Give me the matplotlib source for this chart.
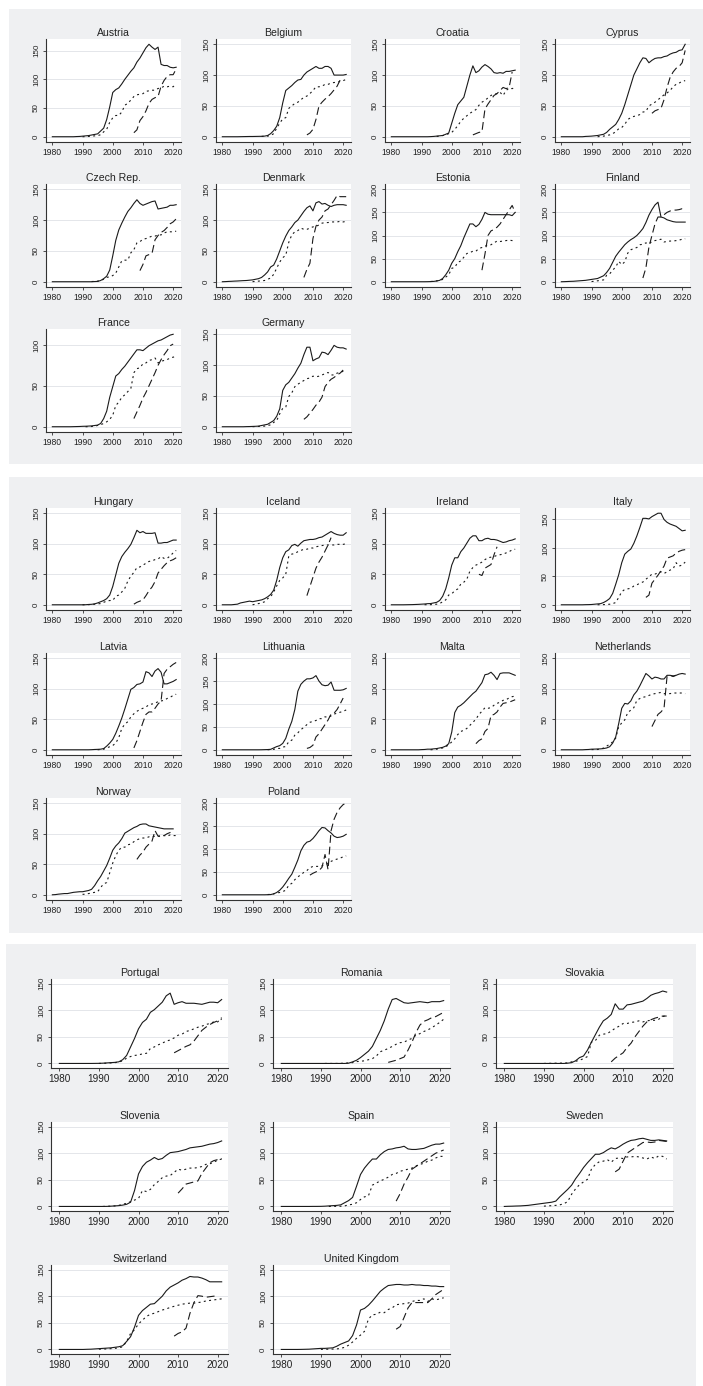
import matplotlib
matplotlib.use("Agg")
import matplotlib.pyplot as plt
from matplotlib.patches import Rectangle

plt.rcParams['font.family'] = ['Liberation Sans', 'DejaVu Sans']

W, H = 703, 1386

# solid line: values 1980 onwards
mobile = {
    "Austria": [0, 0, 0, 0, 0, 0, 0, 0, 0.3, 0.5,
                1, 1.5, 2, 3, 4, 5, 10, 15, 30, 52,
                77, 82, 85, 92, 100, 107, 114, 120, 130, 137,
                146, 155, 161, 156, 152, 156, 126, 124, 124, 121,
                120, 121],
    "Belgium": [0, 0, 0, 0, 0, 0, 0.1, 0.2, 0.3, 0.4,
                0.4, 0.5, 0.6, 0.7, 1, 2, 5, 10, 17, 31,
                55, 75, 79, 83, 88, 92, 93, 100, 105, 108,
                111, 114, 111, 111, 114, 114, 111, 100, 100, 100,
                100, 101],
    "Croatia": [0, 0, 0, 0, 0, 0, 0, 0, 0, 0,
                0, 0, 0, 0.2, 0.5, 1, 1.5, 2, 4, 6,
                22, 38, 52, 58, 64, 82, 100, 115, 104, 107,
                113, 117, 114, 110, 104, 103, 104, 103, 106, 106,
                107, 108],
    "Cyprus": [0, 0, 0, 0, 0, 0, 0, 0, 0.5, 0.7,
               1, 1.5, 2, 3, 4, 7, 12, 16, 20, 28,
               38, 52, 68, 84, 100, 110, 120, 128, 127, 120,
               124, 127, 128, 128, 130, 131, 134, 136, 137, 140,
               141, 150],
    "Czech Rep.": [0, 0, 0, 0, 0, 0, 0, 0, 0, 0,
                   0, 0, 0, 0, 0.3, 0.5, 2, 5, 9, 19,
                   42, 67, 84, 95, 105, 114, 120, 127, 133, 127,
                   124, 126, 128, 130, 131, 118, 119, 120, 121, 124,
                   124, 125],
    "Denmark": [0, 0.2, 0.5, 0.7, 1, 1.2, 1.5, 1.8, 2, 2.5,
                3, 4, 5, 7, 11, 16, 24, 27, 37, 50,
                63, 74, 83, 89, 96, 100, 107, 114, 120, 123,
                115, 128, 130, 126, 127, 124, 122, 124, 125, 125,
                125, 124],
    "Estonia": [0, 0, 0, 0, 0, 0, 0, 0, 0, 0,
                0, 0, 0.1, 0.3, 0.7, 1.5, 3, 7, 15, 25,
                40, 50, 65, 78, 95, 110, 125, 125, 119, 124,
                135, 150, 146, 145, 145, 145, 145, 145, 145, 145,
                143, 150],
    "Finland": [0, 0.2, 0.5, 0.8, 1, 1.5, 2, 2.5, 3, 4,
                5, 6, 7, 10, 13, 20, 29, 42, 55, 64,
                72, 80, 86, 91, 95, 100, 107, 115, 128, 144,
                156, 166, 172, 140, 138, 134, 132, 130, 129, 129,
                129, 129],
    "France": [0, 0, 0, 0, 0, 0, 0, 0.1, 0.2, 0.3,
               0.5, 0.6, 0.8, 1, 1.5, 2, 4, 10, 19, 36,
               49, 62, 65, 70, 74, 79, 84, 89, 94, 94,
               93, 96, 99, 101, 103, 105, 106, 108, 110, 112,
               113],
    "Germany": [0, 0, 0, 0, 0, 0, 0, 0, 0.2, 0.3,
                0.5, 0.7, 1, 2, 3, 4, 7, 10, 17, 29,
                59, 68, 72, 79, 86, 95, 103, 117, 129, 129,
                107, 110, 112, 121, 120, 117, 124, 132, 129, 128,
                128, 126],
    "Hungary": [0, 0, 0, 0, 0, 0, 0, 0, 0, 0,
                0, 0.1, 0.5, 0.8, 1.5, 3, 5, 7, 10, 16,
                30, 49, 68, 79, 86, 92, 99, 110, 122, 118,
                120, 117, 117, 117, 118, 101, 101, 102, 102, 104,
                106, 106],
    "Iceland": [0, 0, 0, 0, 0.5, 1, 3, 4, 5, 6,
                5, 6, 7, 8, 10, 13, 17, 24, 40, 61,
                77, 87, 90, 97, 99, 96, 101, 105, 106, 107,
                107, 108, 110, 111, 114, 117, 120, 117, 115, 114,
                114, 118],
    "Ireland": [0, 0, 0, 0, 0, 0.1, 0.2, 0.3, 0.5, 0.7,
                1, 1.3, 1.8, 2, 3, 4, 7, 14, 26, 44,
                65, 77, 77, 87, 93, 101, 109, 113, 113, 105,
                105, 108, 109, 107, 107, 106, 104, 102, 103, 105,
                106, 108],
    "Italy": [0, 0, 0, 0, 0, 0, 0, 0, 0.2, 0.3,
              0.5, 1, 1.5, 2, 4, 7, 11, 20, 36, 53,
              74, 89, 94, 98, 108, 121, 136, 152, 152, 151,
              155, 158, 161, 161, 150, 145, 142, 140, 138, 134,
              130, 131],
    "Latvia": [0, 0, 0, 0, 0, 0, 0, 0, 0, 0,
               0, 0, 0, 0.2, 0.5, 0.7, 1, 2, 6, 11,
               17, 27, 39, 52, 67, 83, 99, 102, 107, 108,
               111, 128, 126, 120, 129, 133, 127, 108, 108, 110,
               112, 115],
    "Lithuania": [0, 0, 0, 0, 0, 0, 0, 0, 0, 0,
                  0, 0, 0, 0.1, 0.3, 0.5, 1, 4, 7, 9,
                  14, 25, 45, 62, 88, 128, 143, 150, 155, 155,
                  157, 162, 150, 142, 140, 141, 148, 130, 130, 130,
                  131, 134],
    "Malta": [0, 0, 0, 0, 0, 0, 0, 0, 0, 0,
              0.3, 0.5, 1, 1, 1.5, 2, 3, 4, 6, 10,
              29, 61, 70, 73, 77, 82, 87, 92, 96, 103,
              110, 123, 124, 127, 122, 115, 125, 126, 126, 126,
              124, 122],
    "Netherlands": [0, 0, 0, 0, 0, 0, 0, 0, 0.3, 0.5,
                    1, 1.1, 1.3, 1.5, 2, 3, 5, 11, 21, 43,
                    68, 76, 75, 80, 90, 96, 105, 115, 125, 121,
                    116, 119, 118, 116, 116, 122, 122, 121, 122, 124,
                    125, 124],
    "Norway": [0, 0.3, 1, 1.5, 2, 2, 3, 4, 4.5, 5,
               5, 6, 7, 9, 15, 23, 30, 39, 48, 60,
               73, 80, 85, 92, 101, 104, 107, 110, 112, 115,
               116, 116, 113, 112, 111, 110, 109, 108, 108, 108,
               108],
    "Poland": [0, 0, 0, 0, 0, 0, 0, 0, 0, 0,
               0, 0, 0, 0, 0, 0.2, 0.5, 2, 5, 10,
               17, 26, 36, 45, 60, 76, 96, 108, 115, 117,
               123, 131, 140, 147, 146, 140, 135, 128, 125, 126,
               128, 132],
    "Portugal": [0, 0, 0, 0, 0, 0, 0, 0, 0, 0.1,
                 0.2, 0.5, 1, 1.5, 2, 3, 7, 15, 31, 47,
                 65, 77, 83, 96, 101, 108, 115, 127, 132, 111,
                 114, 116, 113, 113, 113, 112, 111, 113, 115, 115,
                 114, 120],
    "Romania": [0, 0, 0, 0, 0, 0, 0, 0, 0, 0,
                0, 0, 0, 0, 0, 0, 0, 0.5, 3, 6,
                11, 17, 23, 32, 47, 62, 80, 102, 120, 122,
                118, 114, 113, 114, 115, 116, 115, 114, 116, 116,
                116, 118],
    "Slovakia": [0, 0, 0, 0, 0, 0, 0, 0, 0, 0,
                 0, 0, 0, 0, 0, 0, 0.5, 1.5, 5, 11,
                 14, 25, 40, 54, 68, 80, 85, 92, 112, 102,
                 102, 110, 111, 113, 115, 117, 122, 128, 131, 133,
                 136, 134],
    "Slovenia": [0, 0, 0, 0, 0, 0, 0, 0, 0, 0,
                 0, 0, 0.1, 0.5, 1, 1.5, 2.5, 4, 8, 30,
                 61, 75, 83, 87, 92, 88, 90, 96, 101, 102,
                 103, 105, 107, 110, 111, 112, 113, 115, 117, 118,
                 120, 123],
    "Spain": [0, 0, 0, 0, 0, 0, 0, 0, 0.1, 0.1,
              0.2, 0.5, 1, 1.5, 2, 3, 7, 11, 17, 38,
              60, 72, 81, 89, 89, 97, 103, 107, 108, 110,
              111, 113, 108, 107, 107, 108, 109, 112, 115, 117,
              117, 119],
    "Sweden": [0, 0.3, 0.5, 0.8, 1, 1.5, 2, 3, 4, 5,
               6, 7, 8, 10, 18, 25, 32, 40, 52, 62,
               73, 82, 90, 98, 98, 101, 106, 110, 108, 112,
               117, 121, 124, 125, 127, 128, 126, 124, 124, 125,
               124, 123],
    "Switzerland": [0, 0, 0, 0, 0, 0, 0, 0.3, 0.5, 1,
                    1.5, 2, 2.5, 3, 4, 5, 7, 15, 24, 42,
                    64, 73, 79, 85, 86, 93, 100, 110, 117, 121,
                    125, 130, 133, 137, 136, 136, 134, 131, 127, 127,
                    127, 127],
    "United Kingdom": [0, 0, 0, 0, 0, 0.1, 0.3, 0.5, 1, 1.5,
                       2, 2, 2.5, 3, 6, 10, 13, 16, 26, 46,
                       74, 77, 83, 91, 100, 109, 115, 120, 121, 122,
                       122, 121, 121, 122, 121, 121, 120, 120, 119, 119,
                       118, 118],
}

# dotted line: (first year, values)
internet = {
    "Austria": (1990, [0, 0.2, 0.5, 1, 1.5, 1.9, 3.5, 8.5, 13, 25,
                       33, 37, 37, 43, 55, 58, 64, 70, 73, 74,
                       75, 79, 80, 81, 81, 84, 85, 88, 87, 88, 87, 92]),
    "Belgium": (1993, [0.5, 0.8, 1, 2, 5, 14, 22,
                       29, 31, 46, 50, 54, 56, 60, 64, 66, 70,
                       75, 81, 81, 82, 85, 85, 87, 88, 88, 90, 91, 93]),
    "Croatia": (1995, [0.5, 1, 2, 3, 5,
                       7, 12, 18, 25, 30, 34, 38, 41, 44, 51,
                       56, 59, 63, 67, 69, 70, 72, 67, 75, 79, 78, 80]),
    "Cyprus": (1992, [0, 0.5, 1, 2, 3, 5, 8, 13,
                      15, 20, 28, 31, 33, 34, 36, 40, 41, 50,
                      53, 56, 60, 64, 68, 71, 75, 81, 85, 87, 90, 91]),
    "Czech Rep.": (1993, [0.3, 0.6, 1, 2, 4, 7, 8,
                          10, 14, 24, 34, 35, 35, 47, 52, 63, 65,
                          69, 70, 72, 74, 74, 76, 76, 79, 81, 81, 81, 82]),
    "Denmark": (1990, [0.1, 0.5, 1, 1.5, 2, 4, 6, 12, 22, 32,
                       39, 43, 64, 76, 81, 83, 87, 85, 85, 87,
                       89, 90, 92, 95, 96, 96, 97, 97, 97, 98, 97, 98]),
    "Estonia": (1993, [0.5, 1, 2, 3, 5, 10, 15,
                       29, 31, 42, 45, 53, 61, 63, 66, 66, 72,
                       74, 77, 79, 80, 84, 88, 87, 88, 89, 90, 89, 91]),
    "Finland": (1990, [0.4, 1, 2, 3, 4, 14, 17, 25, 32, 44,
                       37, 43, 62, 69, 72, 74, 80, 81, 84, 82,
                       87, 89, 90, 92, 86, 87, 88, 88, 89, 90, 92, 93]),
    "France": (1991, [0, 0.1, 0.3, 0.5, 1.6, 2.5, 4, 6, 9,
                      14, 26, 30, 36, 39, 43, 47, 66, 71, 72,
                      77, 78, 81, 82, 84, 78, 80, 81, 82, 84, 85, 86]),
    "Germany": (1990, [0.1, 0.3, 0.5, 0.7, 1, 2, 3, 7, 10, 21,
                       30, 32, 49, 55, 65, 69, 72, 75, 78, 79,
                       82, 81, 82, 84, 86, 88, 84, 84, 87, 88, 90, 92]),
    "Hungary": (1990, [0, 0.1, 0.2, 0.5, 0.9, 1.5, 2, 4, 6, 7,
                       7, 14, 16, 21, 27, 39, 47, 53, 61, 62,
                       65, 68, 71, 72, 74, 75, 79, 76, 76, 80, 85, 89]),
    "Iceland": (1990, [0, 1, 2, 3, 5, 10, 13, 21, 31, 40,
                       44, 50, 80, 83, 84, 87, 89, 91, 91, 93,
                       93, 95, 96, 97, 98, 98, 98, 98, 99, 99, 99, 100]),
    "Ireland": (1991, [0.1, 0.15, 0.2, 0.5, 1, 2, 5, 8, 16,
                       18, 23, 26, 34, 37, 42, 55, 61, 65, 67,
                       70, 74, 77, 78, 79, 81, 82, 83, 85, 87, 90, 91]),
    "Italy": (1992, [0, 0.2, 0.3, 0.5, 1, 2, 4, 13,
                     23, 27, 28, 29, 33, 35, 38, 40, 45, 49,
                     54, 54, 56, 58, 55, 58, 61, 63, 74, 68, 70, 75]),
    "Latvia": (1995, [0, 0.5, 1, 3, 5,
                      7, 11, 20, 35, 42, 46, 54, 59, 63, 66,
                      68, 70, 74, 75, 76, 79, 80, 81, 84, 86, 89, 91]),
    "Lithuania": (1995, [0, 0.5, 1, 3, 3,
                         6, 7, 18, 21, 32, 37, 44, 49, 55, 60,
                         62, 64, 68, 68, 72, 71, 74, 78, 80, 82, 84, 87]),
    "Malta": (1993, [0, 0.5, 1, 2, 3, 5, 8,
                     13, 18, 25, 30, 32, 35, 40, 45, 50, 58,
                     63, 69, 68, 69, 73, 76, 78, 81, 82, 85, 87, 88]),
    "Netherlands": (1990, [0.3, 0.4, 0.5, 1, 3, 6, 9, 13, 19, 38,
                           44, 49, 61, 65, 69, 81, 84, 86, 87, 89,
                           91, 92, 93, 94, 92, 92, 92, 93, 93, 93, 93, 92]),
    "Norway": (1990, [0.7, 1, 2, 3, 4, 5, 12, 18, 20, 36,
                      52, 64, 73, 78, 78, 82, 83, 87, 90, 92,
                      93, 93, 95, 95, 96, 96, 97, 97, 96, 98, 97, 97]),
    "Poland": (1995, [0.5, 1, 2, 4, 5,
                      7, 10, 21, 25, 33, 39, 44, 49, 53, 59,
                      62, 62, 62, 63, 67, 68, 73, 76, 78, 80, 83, 85]),
    "Portugal": (1990, [0, 0.2, 0.5, 1, 1.5, 2.5, 5, 10, 13, 15,
                        16, 18, 19, 28, 31, 35, 38, 42, 44, 48,
                        53, 55, 60, 62, 65, 68, 70, 73, 75, 78, 78, 86]),
    "Romania": (1991, [0, 0, 0, 0, 0.2, 0.5, 1, 1.5, 3.5,
                       4, 5, 7, 9, 14, 22, 25, 28, 32, 36,
                       39, 40, 44, 47, 53, 56, 60, 63, 67, 72, 77, 83]),
    "Slovakia": (1990, [0, 0.2, 0.3, 0.5, 0.6, 0.8, 1, 3, 4, 6,
                        9, 13, 40, 43, 53, 55, 56, 61, 66, 70,
                        75, 75, 77, 78, 80, 78, 80, 81, 81, 83, 88, 90]),
    "Slovenia": (1991, [0, 0.2, 0.5, 1, 2, 4, 6, 9, 12,
                        15, 30, 28, 32, 41, 47, 54, 57, 58, 64,
                        70, 68, 70, 72, 72, 73, 75, 79, 80, 83, 87, 89]),
    "Spain": (1992, [0, 0.1, 0.2, 0.4, 1, 3, 4, 7,
                     13, 18, 20, 40, 44, 48, 51, 55, 60, 62,
                     66, 68, 70, 72, 76, 79, 81, 85, 87, 91, 94, 94]),
    "Sweden": (1990, [0.6, 1, 1.5, 2, 3, 5, 9, 23, 33, 41,
                      46, 51, 70, 79, 84, 85, 88, 83, 90, 91,
                      90, 93, 93, 94, 93, 91, 89, 93, 90, 95, 94, 89]),
    "Switzerland": (1990, [0.5, 0.7, 1, 1.5, 2, 3, 5, 15, 30, 37,
                           48, 55, 62, 66, 68, 71, 74, 76, 79, 81,
                           83, 85, 86, 87, 87, 88, 89, 91, 92, 93, 94, 95]),
    "United Kingdom": (1990, [0.1, 0.3, 0.5, 0.7, 1, 2, 4, 8, 14, 21,
                              27, 34, 57, 65, 66, 70, 69, 75, 78, 84,
                              85, 86, 87, 90, 92, 92, 95, 90, 95, 93, 95, 97]),
}

# dashed line: (first year, values)
broadband = {
    "Austria": (2007, [7, 12, 28, 35, 45, 58, 65, 68, 70, 88, 98, 105, 108, 108, 118]),
    "Belgium": (2008, [3, 6, 12, 28, 50, 56, 61, 65, 70, 76, 82, 92, 93]),
    "Croatia": (2007, [3, 5, 7, 8, 45, 53, 60, 67, 70, 75, 80, 78, 80, 105]),
    "Cyprus": (2010, [38, 42, 44, 46, 60, 80, 96, 105, 111, 114, 120, 140]),
    "Czech Rep.": (2009, [18, 28, 42, 44, 46, 68, 75, 80, 83, 88, 94, 97, 102]),
    "Denmark": (2007, [7, 20, 30, 70, 90, 100, 105, 115, 118, 125, 132, 140, 138, 138, 138]),
    "Estonia": (2010, [25, 60, 100, 110, 113, 118, 125, 135, 145, 155, 165, 150]),
    "Finland": (2007, [8, 30, 75, 100, 125, 140, 140, 145, 150, 153, 155, 155, 156, 158, 157]),
    "France": (2007, [10, 18, 26, 35, 42, 50, 58, 66, 75, 82, 88, 93, 99, 101]),
    "Germany": (2007, [12, 16, 22, 28, 35, 40, 48, 65, 72, 77, 80, 84, 87, 92]),
    "Hungary": (2007, [1, 4, 6, 8, 15, 23, 29, 38, 52, 58, 64, 69, 72, 74, 77]),
    "Iceland": (2008, [15, 30, 45, 60, 70, 78, 88, 98, 110]),
    "Ireland": (2009, [50, 48, 60, 63, 66, 82, 95]),
    "Italy": (2008, [13, 17, 38, 45, 52, 60, 68, 82, 84, 86, 91, 94, 96, 97]),
    "Latvia": (2007, [3, 15, 30, 45, 58, 62, 62, 68, 75, 80, 125, 132, 136, 140, 143]),
    "Lithuania": (2008, [3, 5, 10, 28, 35, 45, 55, 65, 78, 80, 88, 100, 113]),
    "Malta": (2008, [10, 15, 18, 30, 35, 56, 58, 62, 70, 76, 77, 78, 80, 82]),
    "Netherlands": (2010, [38, 48, 58, 62, 68, 120, 122, 120, 122]),
    "Norway": (2008, [58, 65, 70, 78, 83, 88, 105, 96, 95, 97, 100, 102, 104]),
    "Poland": (2009, [43, 47, 50, 53, 60, 88, 55, 140, 165, 180, 190, 197, 200]),
    "Portugal": (2009, [20, 24, 28, 32, 35, 42, 52, 62, 68, 73, 77, 80, 83]),
    "Romania": (2007, [2, 4, 6, 9, 12, 25, 40, 58, 72, 79, 82, 86, 88, 92, 96]),
    "Slovakia": (2007, [3, 10, 15, 20, 30, 38, 50, 60, 70, 78, 82, 85, 87, 89, 89]),
    "Slovenia": (2010, [25, 33, 42, 44, 46, 48, 62, 72, 82, 86, 88, 90]),
    "Spain": (2009, [10, 24, 42, 55, 70, 75, 80, 85, 90, 95, 100, 103, 106]),
    "Sweden": (2008, [65, 70, 85, 100, 105, 110, 115, 120, 121, 120, 121, 124, 123, 122]),
    "Switzerland": (2009, [25, 30, 33, 40, 68, 88, 101, 100, 98, 99, 100, 101]),
    "United Kingdom": (2009, [38, 43, 60, 78, 88, 88, 88, 88, 88, 95, 103, 108, 113]),
}

# highest y tick label (others: 150)
y_top = {"Estonia": 200, "Finland": 200, "Lithuania": 200, "Poland": 200, "France": 100}

group1 = ["Austria", "Belgium", "Croatia", "Cyprus", "Czech Rep.", "Denmark",
          "Estonia", "Finland", "France", "Germany"]
group2 = ["Hungary", "Iceland", "Ireland", "Italy", "Latvia", "Lithuania",
          "Malta", "Netherlands", "Norway", "Poland"]
group3 = ["Portugal", "Romania", "Slovakia", "Slovenia", "Spain", "Sweden",
          "Switzerland", "United Kingdom"]
x_ticks = [1980, 1990, 2000, 2010, 2020]

BG = "#eff0f2"
INK = "#1a1a1a"

fig = plt.figure(figsize=(W / 100, H / 100), dpi=100)
fig.patch.set_facecolor("white")


def px_rect(x, y, w, h):
    return [x / W, 1 - (y + h) / H, w / W, h / H]


def grey_panel(x, y, w, h):
    fig.patches.append(Rectangle(px_rect(x, y, w, h)[:2], w / W, h / H,
                                 transform=fig.transFigure, facecolor=BG,
                                 edgecolor="none", zorder=-5))


def draw_country(name, rect, xfs, yfs):
    ax = fig.add_axes(px_rect(*rect))
    ax.set_facecolor("white")

    vals = mobile[name]
    ax.plot(range(1980, 1980 + len(vals)), vals, color=INK, lw=0.8, ls="-")
    start, vals = internet[name]
    ax.plot(range(start, start + len(vals)), vals, color=INK, lw=0.8,
            ls=(0, (1.8, 3)))
    start, vals = broadband[name]
    ax.plot(range(start, start + len(vals)), vals, color=INK, lw=0.8,
            ls=(0, (7, 3.5)))

    top = y_top.get(name, 150)
    yt = list(range(0, top + 1, 50))
    hi = max(top, max(mobile[name]), max(internet[name][1]), max(broadband[name][1]))
    ax.set_ylim(-0.057 * hi, 1.057 * hi)
    ax.set_xlim(1977.9, 2022.6)
    ax.set_yticks(yt)
    ax.set_yticklabels([str(v) for v in yt], rotation=90, va="center",
                       fontsize=yfs, color="#222")
    ax.set_xticks(x_ticks)
    ax.set_xticklabels([str(v) for v in x_ticks], fontsize=xfs, color="#222")
    ax.grid(axis="y", color="#e4e6ea", lw=0.7)
    ax.set_axisbelow(True)
    for s in ["top", "right"]:
        ax.spines[s].set_visible(False)
    for s in ["left", "bottom"]:
        ax.spines[s].set_color("#333")
        ax.spines[s].set_linewidth(0.8)
    ax.tick_params(length=2.5, width=0.6, color="#333", pad=1.8)
    ax.set_title(name, fontsize=7.6, pad=2, color="#222")


# panel 1 and 2: 4 columns
cols4 = [46, 216, 385, 555]
grey_panel(9, 9, 694, 455)
for i, c in enumerate(group1):
    top = [39, 184, 329][i // 4]
    draw_country(c, (cols4[i % 4], top, 135, 103), 6.2, 5.8)

grey_panel(9, 477, 694, 456)
for i, c in enumerate(group2):
    top = [508, 653, 798][i // 4]
    draw_country(c, (cols4[i % 4], top, 135, 102), 6.2, 5.8)

# panel 3: 3 columns
cols3 = [51, 273, 496]
grey_panel(6, 944, 690, 442)
for i, c in enumerate(group3):
    top = [979, 1122, 1265][i // 3]
    draw_country(c, (cols3[i % 3], top, 177, 89), 7.2, 5.8)

fig.savefig("out.png", dpi=100, facecolor="white")
